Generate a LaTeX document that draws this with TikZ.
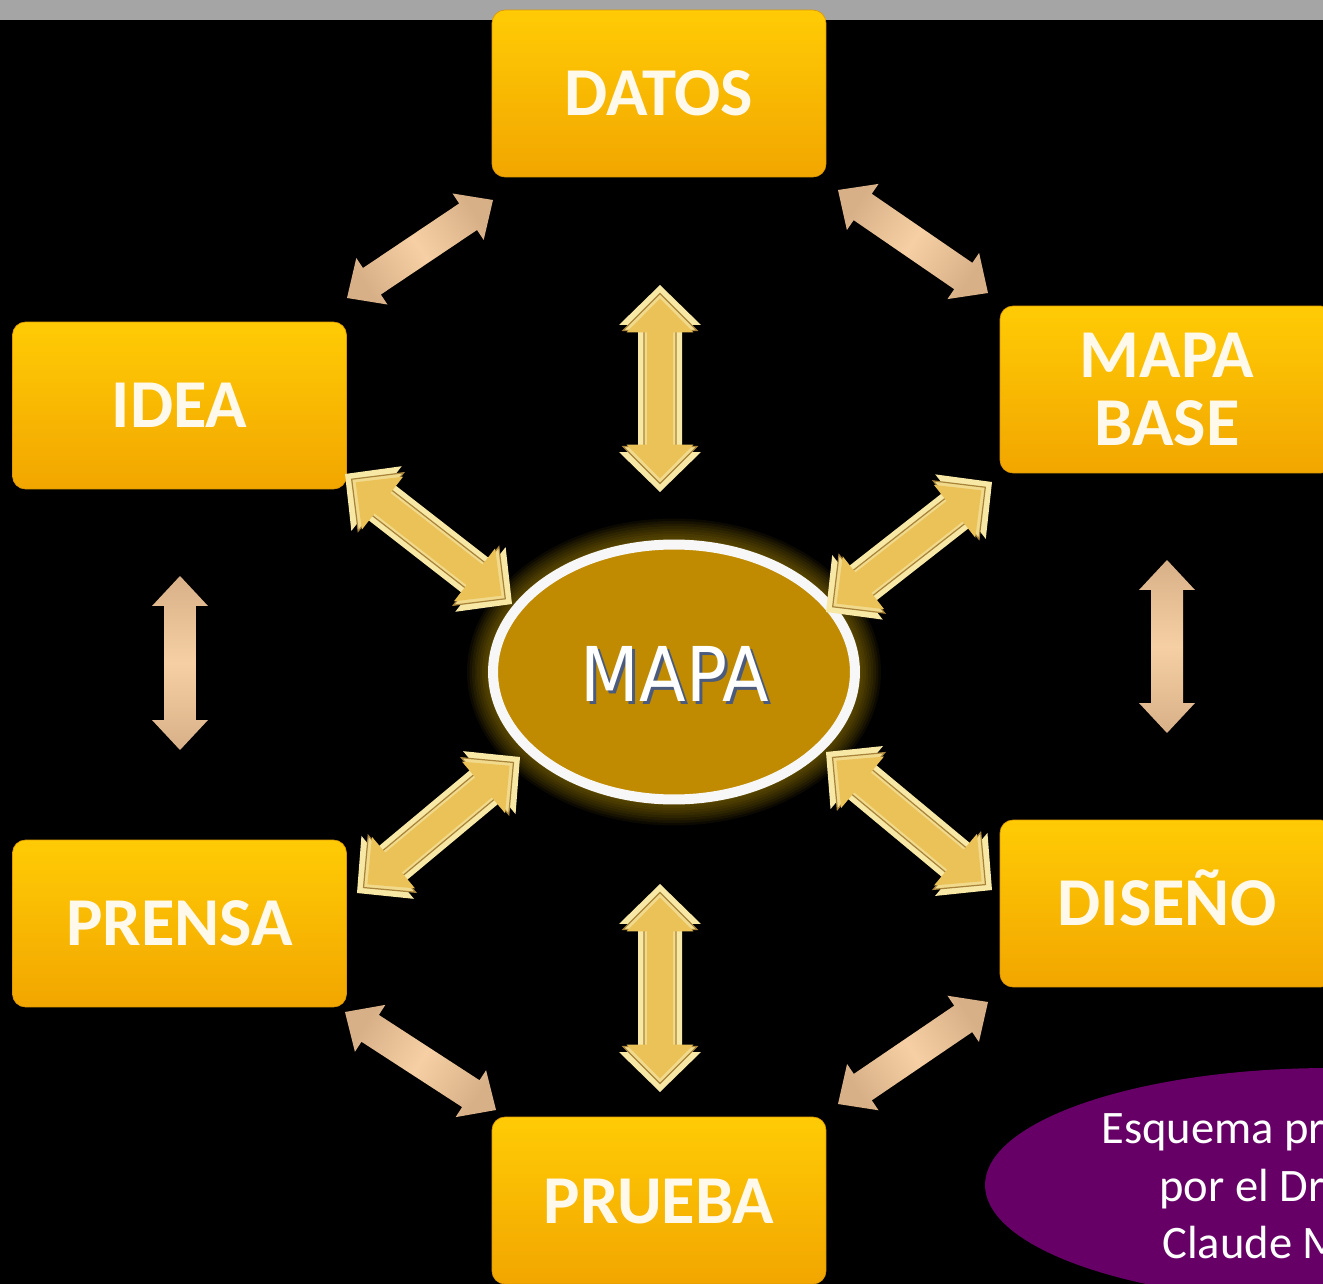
\documentclass[tikz,border=0pt]{standalone}
\usepackage{fontspec}
\setmainfont{Carlito}
\newfontfamily\mapafont{DejaVu Sans}
\usetikzlibrary{calc,shapes.geometric}
\definecolor{boxtop}{HTML}{FFCB05}
\definecolor{boxbot}{HTML}{F2A600}
\definecolor{boxtext}{HTML}{FFF9EC}
\definecolor{bandgray}{HTML}{A5A5A5}
\definecolor{mapafill}{HTML}{C08B00}
\definecolor{glowc}{HTML}{D8AC00}
\definecolor{mapashadow}{HTML}{4B5B7E}
\definecolor{cream}{HTML}{F8E8A6}
\definecolor{lightcream}{HTML}{F2DA8C}
\definecolor{goldarr}{HTML}{EBC258}
\definecolor{goldline}{HTML}{A8843A}
\definecolor{peachmid}{HTML}{F6D0A4}
\definecolor{peachend}{HTML}{D8B088}
\definecolor{purp}{HTML}{660066}
\tikzset{
  orangebox/.style={rectangle, rounded corners=0.26cm, minimum width=6.68cm,
    minimum height=3.34cm, top color=boxtop, bottom color=boxbot,
    draw=boxbot!92!black, line width=0.4pt, text=boxtext,
    font=\bfseries\fontsize{39}{39}\selectfont, align=center, inner sep=0pt},
  oneline/.style={text height=0.9cm, text depth=0pt},
  peach/.style={top color=peachend, bottom color=peachend, middle color=peachmid},
  mapatext/.style={font=\mapafont\fontsize{43}{43}\selectfont, inner sep=0pt},
  notetext/.style={anchor=base west, text=white, font=\fontsize{26.5}{26.5}\selectfont, inner sep=0pt}
}
% double arrow polygon: style, from, to, head length, half shaft, half head
\newcommand\dblarr[6]{%
  \coordinate (hA) at ($(#2)!#4!(#3)$);
  \coordinate (hB) at ($(#3)!#4!(#2)$);
  \path[#1] (#2) -- ($(hA)!#6!90:(#3)$) -- ($(hA)!#5!90:(#3)$)
    -- ($(hB)!#5!-90:(#2)$) -- ($(hB)!#6!-90:(#2)$) -- (#3)
    -- ($(hB)!#6!90:(#2)$) -- ($(hB)!#5!90:(#2)$)
    -- ($(hA)!#5!-90:(#3)$) -- ($(hA)!#6!-90:(#3)$) -- cycle;}
\newcommand\goldarrow[2]{%
  \dblarr{fill=cream}{#1}{#2}{0.8cm}{0.44cm}{0.82cm}
  \coordinate (iA) at ($(#1)!0.17cm!(#2)$);
  \coordinate (iB) at ($(#2)!0.17cm!(#1)$);
  \dblarr{fill=lightcream, draw=goldline, line width=0.7pt}{iA}{iB}{0.74cm}{0.32cm}{0.74cm}
  \coordinate (jA) at ($(#1)!0.27cm!(#2)$);
  \coordinate (jB) at ($(#2)!0.27cm!(#1)$);
  \dblarr{fill=goldarr}{jA}{jB}{0.68cm}{0.26cm}{0.67cm}}
\begin{document}
\begin{tikzpicture}[x=0.02cm, y=-0.02cm]
\clip (0,0) rectangle (1323,1284);
\fill[black] (0,0) rectangle (1323,1284);
\fill[bandgray] (0,0) rectangle (1323,20);

% peach connectors between neighbouring boxes
\coordinate (p1s) at (347,298);  \coordinate (p1e) at (493,200);
\coordinate (p2s) at (838,190);  \coordinate (p2e) at (988,293);
\coordinate (p3s) at (180,576);  \coordinate (p3e) at (180,750);
\coordinate (p4s) at (1167,560); \coordinate (p4e) at (1167,733);
\coordinate (p5s) at (345,1012); \coordinate (p5e) at (496,1110);
\coordinate (p6s) at (988,1002); \coordinate (p6e) at (838,1104);
\dblarr{peach, shading angle=-56}{p1s}{p1e}{0.6cm}{0.32cm}{0.56cm}
\dblarr{peach, shading angle=55.5}{p2s}{p2e}{0.6cm}{0.32cm}{0.56cm}
\dblarr{peach, shading angle=0}{p3s}{p3e}{0.6cm}{0.32cm}{0.56cm}
\dblarr{peach, shading angle=0}{p4s}{p4e}{0.6cm}{0.32cm}{0.56cm}
\dblarr{peach, shading angle=57}{p5s}{p5e}{0.6cm}{0.32cm}{0.56cm}
\dblarr{peach, shading angle=-56}{p6s}{p6e}{0.6cm}{0.32cm}{0.56cm}

% boxes
\node[orangebox, oneline] (datos) at (659,93.5) {DATOS};
\node[orangebox, oneline] (idea) at (179.5,405.5) {IDEA};
\node[orangebox] (mapabase) at (1167,389.5) {MAPA\\[-0.02cm]BASE};
\node[orangebox, oneline] (prensa) at (179.5,923.5) {PRENSA};
\node[orangebox, oneline] (diseno) at (1167,903.5) {DISEÑO};
\node[orangebox, oneline] (prueba) at (659,1200.5) {PRUEBA};

% central ellipse with glow
\foreach \i in {0,...,8}{
  \fill[glowc, opacity=0.06] (674,672) ellipse [x radius={3.74cm+\i*0.05cm}, y radius={2.67cm+\i*0.05cm}];
}
\node[ellipse, draw=white!94!gray, line width=0.2cm, fill=mapafill, minimum width=7.24cm,
      minimum height=5.1cm, inner sep=0pt] (mapa) at (674,672) {};

% gold connectors between MAPA and the boxes
\coordinate (g1s) at (660,285);  \coordinate (g1e) at (660,492);
\coordinate (g2s) at (660,884);  \coordinate (g2e) at (660,1092);
\coordinate (g3s) at (345,474);  \coordinate (g3e) at (512,604);
\coordinate (g4s) at (992,482);  \coordinate (g4e) at (826,612);
\coordinate (g5s) at (357,893);  \coordinate (g5e) at (520,757);
\coordinate (g6s) at (992,890);  \coordinate (g6e) at (826,752);
\goldarrow{g1s}{g1e}
\goldarrow{g2s}{g2e}
\goldarrow{g3s}{g3e}
\goldarrow{g4s}{g4e}
\goldarrow{g5s}{g5e}
\goldarrow{g6s}{g6e}

% MAPA label with shadow
\node[mapatext, text=mapashadow] (mapashad) at ($(mapa.center)+(4,5)$) {\scalebox{0.9}[1]{MAPA}};
\node[mapatext, text=white] (mapalabel) at ($(mapa.center)+(1,2)$) {\scalebox{0.9}[1]{MAPA}};

% purple note
\fill[purp] (1330,1185) ellipse [x radius=6.9cm, y radius=2.34cm];
\node[notetext] (note1) at (1101,1143) {Esquema pr};
\node[notetext] (note2) at (1159,1201) {por el Dr};
\node[notetext] (note3) at (1162,1258) {Claude M};
\end{tikzpicture}
\end{document}
